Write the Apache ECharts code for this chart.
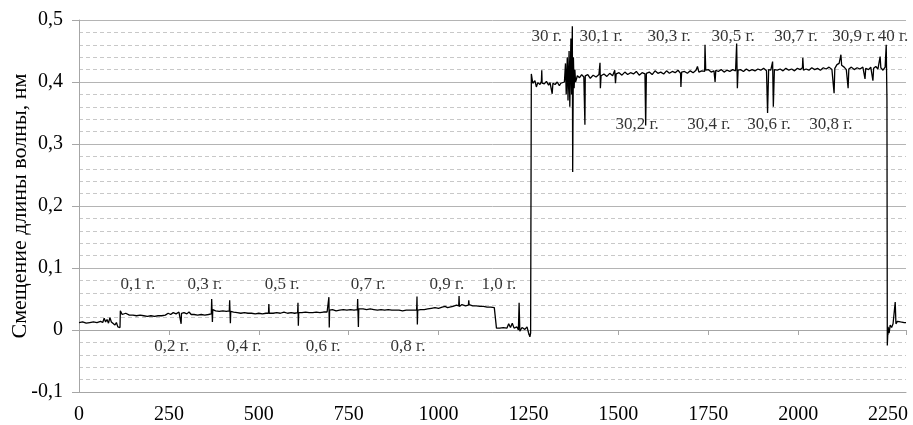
<!DOCTYPE html>
<html>
<head>
<meta charset="utf-8">
<script src="https://cdn.jsdelivr.net/npm/echarts@6/dist/echarts.min.js"></script>
<style>
  html, body { margin: 0; padding: 0; background: #fff; }
  #chart { width: 913px; height: 425px; }
</style>
</head>
<body>
<div id="chart"></div>
<script>
// x ticks / y ticks
var xTicks = [0, 250, 500, 750, 1000, 1250, 1500, 1750, 2000, 2250];
var yTicks = [-0.1, 0, 0.1, 0.2, 0.3, 0.4, 0.5];

// low level part, before the jump (v 0 .. 1257)
var lowPart = [
  [0,0.012],[10,0.013],[20,0.011],[30,0.012],[40,0.013],[50,0.012],[60,0.014],[66,0.012],[70,0.019],[74,0.013],
  [78,0.017],[82,0.011],[86,0.02],[90,0.013],[95,0.016],[100,0.008],[104,0.012],[108,0.005],[112,0.007],[114,0.004],
  [115,0.031],[120,0.025],[130,0.027],[140,0.024],[150,0.024],[160,0.023],[170,0.024],[180,0.023],[190,0.022],[200,0.023],
  [210,0.022],[220,0.023],[230,0.023],[240,0.024],[248,0.027],[255,0.025],[262,0.028],[270,0.026],[278,0.029],[283,0.027],
  [284,0.010],[285,0.027],[292,0.028],[300,0.026],[306,0.029],[312,0.025],[320,0.025],[330,0.024],[340,0.025],[350,0.024],
  [360,0.025],[368,0.026],[369,0.05],[371,0.013],[372,0.033],[380,0.031],[390,0.03],[400,0.031],[410,0.03],[418,0.031],
  [419,0.048],[421,0.011],[422,0.03],[430,0.029],[440,0.028],[450,0.027],[460,0.028],[470,0.027],[480,0.027],[490,0.026],
  [500,0.027],[510,0.026],[520,0.027],[527,0.027],[528,0.042],[529,0.027],[540,0.027],[550,0.028],[555,0.031],[560,0.027],
  [570,0.029],[575,0.032],[580,0.027],[590,0.028],[600,0.027],[608,0.028],[609,0.044],[610,0.007],[611,0.028],[620,0.028],
  [630,0.029],[640,0.028],[650,0.028],[660,0.029],[670,0.028],[680,0.029],[690,0.029],[694,0.03],[695,0.053],[696,0.004],
  [697,0.032],[705,0.033],[715,0.031],[725,0.032],[735,0.033],[745,0.032],[755,0.033],[765,0.032],[774,0.033],[775,0.05],
  [777,0.005],[778,0.034],[790,0.034],[800,0.033],[810,0.034],[820,0.033],[830,0.032],[840,0.033],[850,0.032],[860,0.033],
  [870,0.032],[880,0.032],[890,0.032],[900,0.031],[910,0.032],[920,0.032],[930,0.032],[939,0.032],[940,0.054],[941,0.009],
  [942,0.032],[950,0.033],[960,0.033],[970,0.034],[980,0.035],[990,0.036],[1000,0.035],[1010,0.037],[1018,0.038],[1025,0.036],
  [1030,0.039],[1040,0.038],[1050,0.040],[1056,0.039],[1057,0.055],[1058,0.038],[1065,0.041],[1075,0.039],[1083,0.04],[1084,0.048],
  [1085,0.041],[1095,0.039],[1105,0.039],[1115,0.038],[1125,0.038],[1135,0.037],[1145,0.037],[1155,0.036],[1159,0.035],
  [1161,0.003],[1170,0.003],[1180,0.004],[1190,0.003],[1195,0.010],[1200,0.004],[1205,0.011],[1210,0.003],[1218,0.005],[1222,0.0],
  [1224,0.044],[1226,-0.002],[1232,0.004],[1240,0.001],[1246,0.005],[1250,-0.004],[1254,-0.011],[1256,-0.005]
];

// high level part (v 1258 .. 2247)
var highPart = [
  [1258,0.413],[1262,0.398],[1268,0.402],[1272,0.392],[1276,0.399],[1282,0.396],[1286,0.401],[1287,0.419],[1288,0.398],[1294,0.397],
  [1300,0.401],[1306,0.395],[1310,0.399],[1316,0.381],[1318,0.398],[1324,0.396],[1330,0.400],[1336,0.394],[1340,0.398],[1344,0.397],
  [1350,0.40],[1353,0.43],[1355,0.38],[1358,0.44],[1360,0.37],[1363,0.45],[1365,0.36],[1368,0.47],[1370,0.38],
  [1372,0.49],[1373,0.255],[1375,0.44],[1377,0.39],[1379,0.42],[1381,0.40],
  [1386,0.41],[1392,0.407],[1398,0.412],[1404,0.408],[1406,0.41],[1407,0.331],[1408,0.41],[1415,0.412],[1422,0.406],[1430,0.411],
  [1438,0.408],[1446,0.412],[1449,0.431],[1450,0.39],[1452,0.41],[1460,0.413],[1468,0.409],[1476,0.414],[1484,0.41],[1490,0.419],
  [1492,0.398],[1494,0.413],[1502,0.415],[1510,0.411],[1518,0.416],[1526,0.412],[1534,0.415],[1542,0.413],[1550,0.417],[1558,0.411],
  [1566,0.415],[1574,0.413],[1576,0.33],[1578,0.414],[1586,0.416],[1594,0.412],[1602,0.418],[1610,0.414],[1618,0.416],[1626,0.413],
  [1634,0.418],[1642,0.414],[1650,0.417],[1658,0.415],[1666,0.419],[1673,0.414],[1674,0.392],[1676,0.416],[1684,0.417],[1692,0.414],
  [1700,0.418],[1708,0.415],[1716,0.419],[1720,0.425],[1724,0.416],[1732,0.418],[1740,0.417],[1741,0.46],[1743,0.419],[1750,0.42],
  [1758,0.416],[1766,0.418],[1769,0.40],[1771,0.419],[1778,0.417],[1786,0.42],[1794,0.416],[1802,0.419],[1810,0.417],[1818,0.42],
  [1826,0.418],[1829,0.462],[1831,0.39],[1833,0.419],[1840,0.42],[1848,0.417],[1856,0.421],[1864,0.418],[1872,0.42],[1880,0.418],
  [1888,0.421],[1896,0.419],[1904,0.422],[1912,0.418],[1915,0.35],[1918,0.42],[1924,0.419],[1929,0.433],[1931,0.36],[1934,0.42],
  [1942,0.419],[1950,0.421],[1958,0.418],[1966,0.422],[1974,0.419],[1982,0.421],[1990,0.418],[1998,0.422],[2006,0.42],[2012,0.423],
  [2013,0.439],[2015,0.419],[2022,0.421],[2030,0.419],[2038,0.423],[2046,0.42],[2054,0.422],[2062,0.419],[2070,0.423],[2078,0.421],
  [2086,0.424],[2094,0.42],[2099,0.423],[2100,0.382],[2102,0.422],[2108,0.428],[2114,0.43],[2119,0.444],[2121,0.427],[2128,0.424],
  [2134,0.42],[2139,0.39],[2141,0.421],[2148,0.424],[2156,0.42],[2164,0.423],[2172,0.421],[2180,0.424],[2186,0.405],[2188,0.422],
  [2196,0.42],[2202,0.424],[2208,0.402],[2210,0.422],[2216,0.425],[2222,0.421],[2228,0.441],[2230,0.423],[2236,0.419],[2242,0.424],
  [2245,0.46],[2247,0.372]
];

// back to low level at the end
var tailPart = [
  [2248,-0.025],[2250,0.005],[2253,-0.005],[2256,0.008],[2260,0.004],[2264,0.01],[2268,0.012],[2270,0.045],[2272,0.01],[2276,0.014],
  [2280,0.012],[2285,0.013],[2290,0.012],[2295,0.012],[2300,0.012]
];

// annotations
var noteNames = ['0,1 г.','0,3 г.','0,5 г.','0,7 г.','0,9 г.','1,0 г.',
                 '0,2 г.','0,4 г.','0,6 г.','0,8 г.',
                 '30 г.','30,1 г.','30,3 г.','30,5 г.','30,7 г.','30,9 г.','40 г.',
                 '30,2 г.','30,4 г.','30,6 г.','30,8 г.'];
var noteX = [164, 350, 565, 804, 1023, 1168,
             258, 459, 679, 915,
             1301, 1452, 1641, 1819, 1994, 2155, 2264,
             1552, 1752, 1919, 2091];
var noteY = [0.074, 0.074, 0.074, 0.074, 0.074, 0.074,
             -0.027, -0.027, -0.027, -0.027,
             0.473, 0.473, 0.473, 0.473, 0.473, 0.473, 0.473,
             0.331, 0.331, 0.331, 0.331];

var serif = '"Liberation Serif", "DejaVu Serif", serif';
var lineData = lowPart.concat(highPart, tailPart);
var notes = [];
for (var i = 0; i < noteNames.length; i++) {
  notes.push({ name: noteNames[i], value: [noteX[i], noteY[i]] });
}

function fmt(v) {
  return String(Math.round(v * 10) / 10).replace('.', ',');
}

var chart = echarts.init(document.getElementById('chart'));
chart.setOption({
  animation: false,
  grid: { left: 79, right: 7, top: 20, bottom: 33, outerBoundsMode: 'none' },
  xAxis: [{
    type: 'value',
    min: xTicks[0],
    max: 2300,
    interval: 250,
    axisLine: { onZero: false, lineStyle: { color: '#a6a6a6', width: 1 } },
    axisTick: { show: false },
    axisLabel: {
      showMaxLabel: false, color: '#000', fontFamily: serif, fontSize: 20, margin: 13,
      formatter: function (v) { return String(v); }
    },
    splitLine: { show: false }
  }, {
    type: 'value',
    position: 'top',
    min: 0,
    max: 2300,
    interval: 250,
    axisLine: { onZero: true, lineStyle: { color: '#a6a6a6', width: 1 } },
    axisTick: { show: true, inside: true, length: 5, lineStyle: { color: '#a6a6a6' } },
    axisLabel: { show: false },
    splitLine: { show: false }
  }],
  yAxis: {
    type: 'value',
    min: yTicks[0],
    max: yTicks[yTicks.length - 1],
    interval: 0.1,
    name: 'Смещение длины волны, нм',
    nameLocation: 'middle',
    nameGap: 48,
    nameMoveOverlap: false,
    nameTextStyle: { color: '#000', fontFamily: serif, fontSize: 22 },
    axisLine: { show: true, lineStyle: { color: '#a6a6a6', width: 1 } },
    axisTick: { show: true, length: 7, lineStyle: { color: '#a6a6a6' } },
    axisLabel: { color: '#000', fontFamily: serif, fontSize: 20, margin: 16, formatter: fmt },
    splitLine: { show: true, lineStyle: { color: '#b4b4b4', width: 1 } },
    minorTick: { show: false, splitNumber: 5 },
    minorSplitLine: { show: true, lineStyle: { color: '#c8c8c8', type: [4, 3], width: 1 } }
  },
  series: [{
    type: 'line',
    data: lineData,
    showSymbol: false,
    symbol: 'none',
    lineStyle: { color: '#000', width: 1.3 },
    silent: true
  }, {
    type: 'scatter',
    data: notes,
    symbolSize: 0,
    silent: true,
    label: {
      show: true,
      position: 'inside',
      formatter: '{b}',
      color: '#000',
      fontFamily: serif,
      fontSize: 17
    }
  }]
});
</script>
</body>
</html>
